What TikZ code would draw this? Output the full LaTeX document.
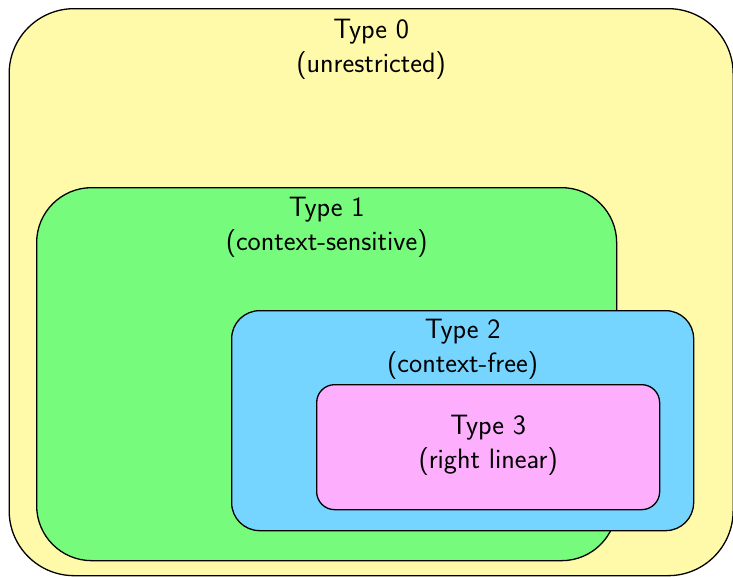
\documentclass[tikz,border=0pt]{standalone}
\usepackage{fontspec}
\definecolor{cyel}{RGB}{255,250,170}
\definecolor{cgrn}{RGB}{119,251,125}
\definecolor{cblu}{RGB}{117,213,255}
\definecolor{cpnk}{RGB}{253,174,253}
\tikzset{
  region/.style={draw=black, line width=1.3pt, rectangle, inner sep=0pt, anchor=north west},
  lbl/.style={font=\sffamily\fontsize{28}{34}\selectfont, align=center, inner sep=0pt, anchor=base},
}
\begin{document}
\begin{tikzpicture}[x=1pt,y=-1pt]
\useasboundingbox (0,0) rectangle (733,576);
\node[region, fill=cyel, rounded corners=65pt, minimum width=724pt, minimum height=567pt] (t0) at (8.5,8) {};
\node[region, fill=cgrn, rounded corners=55pt, minimum width=580pt, minimum height=373pt] (t1) at (36,187) {};
\node[region, fill=cblu, rounded corners=28pt, minimum width=462pt, minimum height=220pt] (t2) at (231,310) {};
\node[region, fill=cpnk, rounded corners=18pt, minimum width=343pt, minimum height=125pt] (t3) at (316,384) {};
\node[lbl] (l0) at ([yshift=-64pt]t0.north) {Type 0\\(unrestricted)};
\node[lbl] (l1) at ([yshift=-63pt]t1.north) {Type 1\\(context-sensitive)};
\node[lbl] (l2) at ([yshift=-62pt]t2.north) {Type 2\\(context-free)};
\node[lbl] (l3) at ([yshift=-21.5pt]t3.center) {Type 3\\(right linear)};
\end{tikzpicture}
\end{document}
